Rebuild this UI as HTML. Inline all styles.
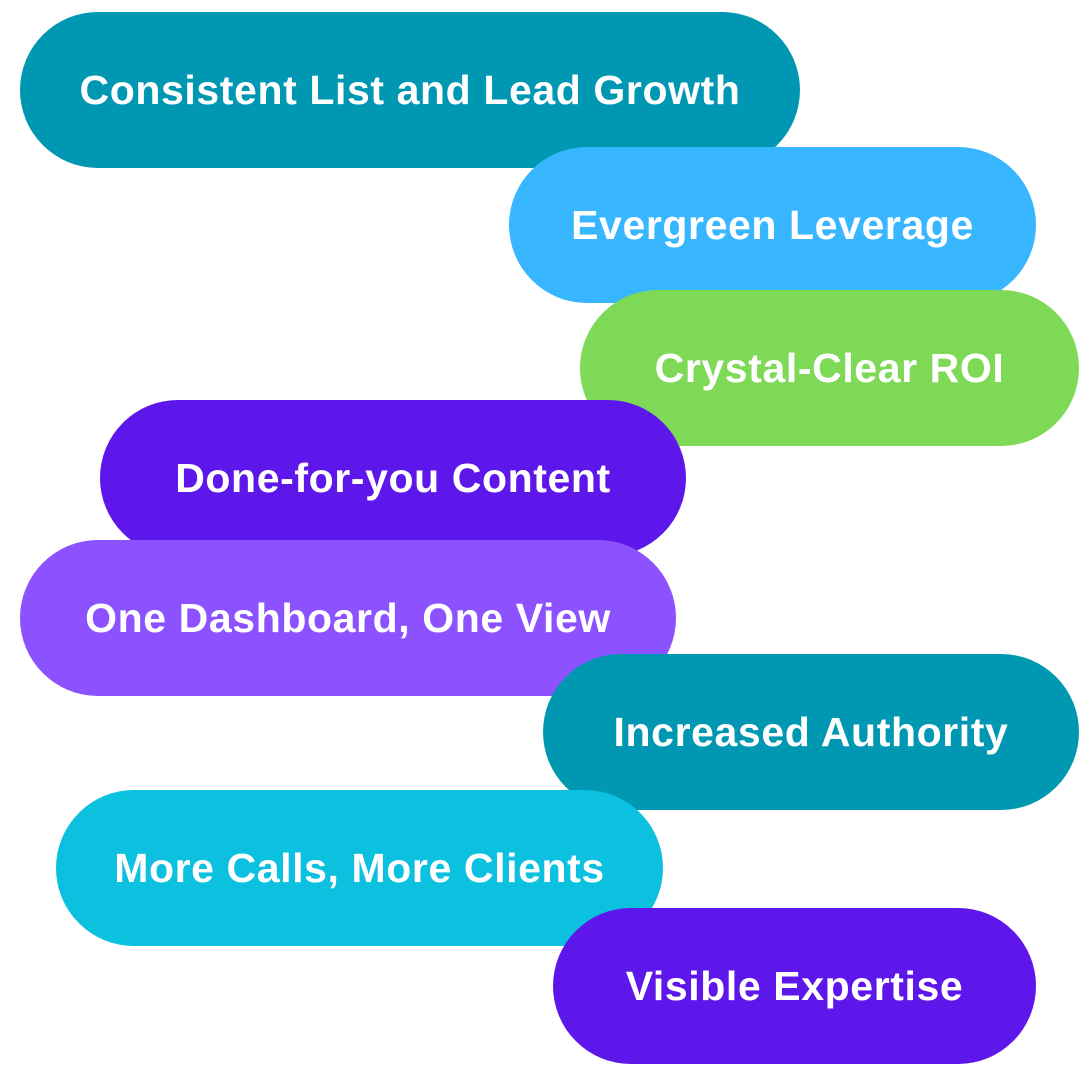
<!DOCTYPE html>
<html><head><meta charset="utf-8"><style>
body{margin:0;width:1079px;height:1079px;background:#fff;position:relative;overflow:hidden;font-family:"Liberation Sans",sans-serif}
.p{position:absolute;height:156px;border-radius:78px;color:#fff;font-weight:bold;font-size:41px;display:flex;align-items:center;justify-content:center;white-space:nowrap;letter-spacing:0.6px}
</style></head><body>
<div class="p" style="left:20px;top:12px;width:780px;background:#0097b2">Consistent List and Lead Growth</div>
<div class="p" style="left:509px;top:147px;width:527px;background:#38b6ff">Evergreen Leverage</div>
<div class="p" style="left:580px;top:290px;width:499px;background:#7ed957">Crystal-Clear ROI</div>
<div class="p" style="left:100px;top:400px;width:586px;background:#5e17eb">Done-for-you Content</div>
<div class="p" style="left:20px;top:540px;width:656px;background:#8c52ff">One Dashboard, One View</div>
<div class="p" style="left:543px;top:654px;width:536px;background:#0097b2">Increased Authority</div>
<div class="p" style="left:56px;top:790px;width:607px;background:#0cc0df">More Calls, More Clients</div>
<div class="p" style="left:553px;top:908px;width:483px;background:#5e17eb">Visible Expertise</div>
</body></html>
